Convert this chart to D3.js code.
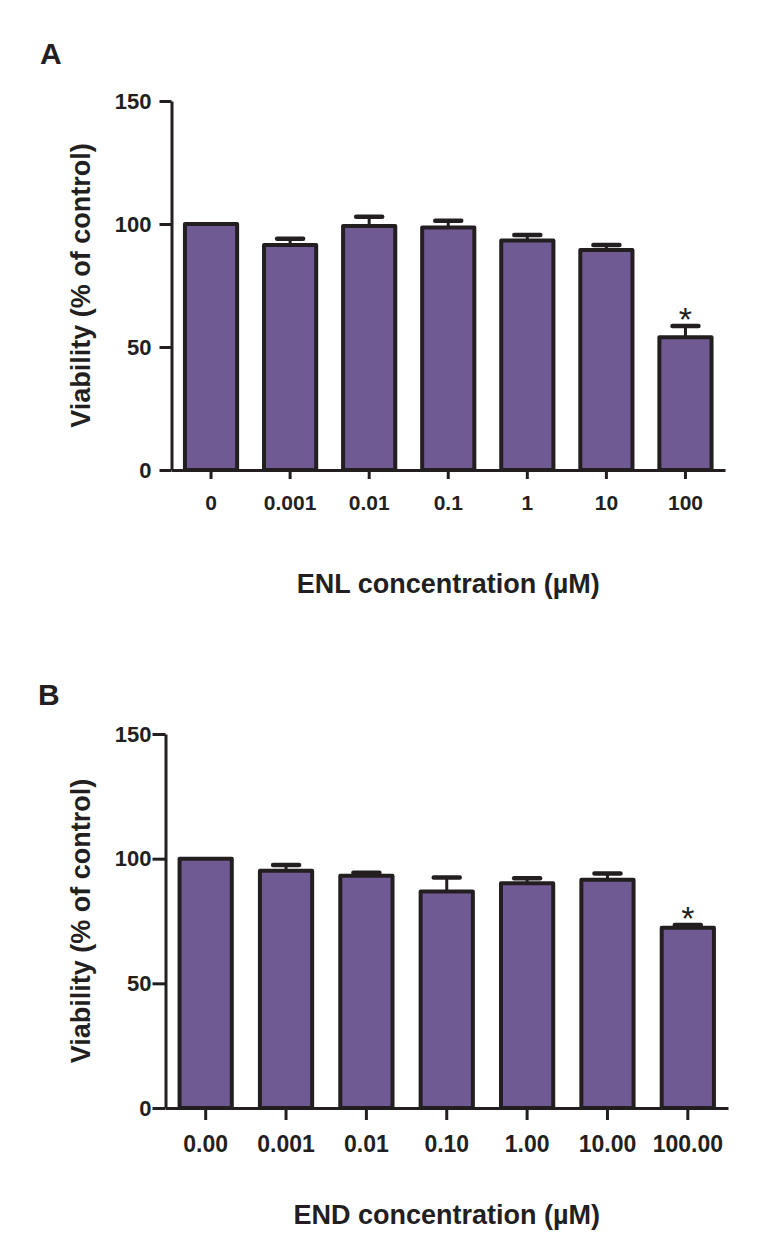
<!DOCTYPE html>
<html>
<head>
<meta charset="utf-8">
<script src="https://cdn.jsdelivr.net/npm/d3@7/dist/d3.min.js"></script>
<style>
  html, body { margin: 0; padding: 0; background: #fff; }
  svg { display: block; }
  text { font-family: "Liberation Sans", Arial, Helvetica, sans-serif; fill: #231f20; }
</style>
</head>
<body>
<svg id="chart" width="777" height="1255"></svg>
<script>
// ---- Data ----
const categoriesA = ["0", "0.001", "0.01", "0.1", "1", "10", "100"];
const viabilityA  = [100, 91.5, 99.2, 98.6, 93.3, 89.4, 54.0];
const errorA      = [0, 2.5, 3.7, 2.7, 2.2, 2.1, 4.5];
const significantA = [false, false, false, false, false, false, true];

const categoriesB = ["0.00", "0.001", "0.01", "0.10", "1.00", "10.00", "100.00"];
const viabilityB  = [100, 95.2, 93.1, 86.8, 90.1, 91.5, 72.3];
const errorB      = [0, 2.3, 1.3, 5.6, 2.0, 2.6, 1.1];
const significantB = [false, false, false, false, false, false, true];

const yTickValues = [0, 50, 100, 150];
const yDomain = [0, 150];

const panelLetters = ["A", "B"];
const yTitle = "Viability (% of control)";
const xTitles = ["ENL concentration (\u00B5M)", "END concentration (\u00B5M)"];

// ---- Style ----
const FILL = "#6f5a93";
const INK = "#231f20";

const svg = d3.select("#chart");

function drawPanel(cfg) {
  const g = svg.append("g");
  const x = d3.scaleBand()
    .domain(cfg.cats)
    .range([cfg.left, cfg.right])
    .paddingInner(cfg.padInner)
    .paddingOuter(cfg.padInner / 2);
  const y = d3.scaleLinear().domain(yDomain).range([cfg.bottom, cfg.top]);

  const data = cfg.cats.map((c, i) => ({ c, v: cfg.vals[i], e: cfg.errs[i], s: cfg.sig[i] }));

  // Bars
  g.selectAll("rect.bar").data(data).enter().append("rect")
    .attr("class", "bar")
    .attr("x", d => x(d.c))
    .attr("width", x.bandwidth())
    .attr("y", d => y(d.v))
    .attr("height", d => y(0) - y(d.v))
    .attr("fill", FILL)
    .attr("stroke", INK)
    .attr("stroke-width", 4)
    .attr("stroke-linejoin", "round");

  // Error bars
  const eb = g.selectAll("g.err").data(data.filter(d => d.e > 0)).enter().append("g").attr("class", "err");
  eb.append("line")
    .attr("x1", d => x(d.c) + x.bandwidth() / 2)
    .attr("x2", d => x(d.c) + x.bandwidth() / 2)
    .attr("y1", d => y(d.v))
    .attr("y2", d => y(d.v + d.e))
    .attr("stroke", INK).attr("stroke-width", 3);
  eb.append("line")
    .attr("x1", d => x(d.c) + x.bandwidth() / 2 - 13)
    .attr("x2", d => x(d.c) + x.bandwidth() / 2 + 13)
    .attr("y1", d => y(d.v + d.e))
    .attr("y2", d => y(d.v + d.e))
    .attr("stroke", INK).attr("stroke-width", 4.5).attr("stroke-linecap", "round");

  // Significance asterisks
  g.selectAll("text.sig").data(data.filter(d => d.s)).enter().append("text")
    .attr("class", "sig")
    .attr("x", d => x(d.c) + x.bandwidth() / 2)
    .attr("y", d => y(d.v + d.e) + 5)
    .attr("text-anchor", "middle")
    .attr("font-size", 34)
    .text("*");

  // Y axis
  const yAxis = g.append("g")
    .attr("transform", `translate(${cfg.left},0)`)
    .call(d3.axisLeft(y).tickValues(yTickValues).tickSize(cfg.yTick).tickSizeOuter(0).tickPadding(cfg.yPad));
  yAxis.select(".domain").attr("stroke", INK).attr("stroke-width", 3);
  yAxis.selectAll(".tick line").attr("stroke", INK).attr("stroke-width", 3);
  yAxis.selectAll(".tick text")
    .attr("font-size", cfg.yFont).attr("font-weight", "bold")
    .attr("font-family", '"Liberation Sans", Arial, sans-serif')
    .attr("fill", INK);

  // X axis
  const xAxis = g.append("g")
    .attr("transform", `translate(0,${cfg.bottom})`)
    .call(d3.axisBottom(x).tickSize(cfg.xTick).tickSizeOuter(0).tickPadding(cfg.xPad));
  xAxis.select(".domain").attr("stroke", INK).attr("stroke-width", 3);
  xAxis.selectAll(".tick line").attr("stroke", INK).attr("stroke-width", 3);
  xAxis.selectAll(".tick text")
    .attr("font-size", cfg.xFont).attr("font-weight", "bold")
    .attr("font-family", '"Liberation Sans", Arial, sans-serif')
    .attr("fill", INK);

  // Panel letter
  g.append("text")
    .attr("x", cfg.letterX).attr("y", cfg.letterY)
    .attr("font-size", 30).attr("font-weight", "bold")
    .text(cfg.letter);

  // Y title
  const yMid = (cfg.top + cfg.bottom) / 2;
  g.append("text")
    .attr("transform", `translate(${cfg.yTitleX},${yMid}) rotate(-90)`)
    .attr("text-anchor", "middle")
    .attr("font-size", 27).attr("font-weight", "bold")
    .text(yTitle);

  // X title
  g.append("text")
    .attr("x", (cfg.left + cfg.right) / 2)
    .attr("y", cfg.xTitleY)
    .attr("text-anchor", "middle")
    .attr("font-size", 27).attr("font-weight", "bold")
    .text(cfg.xTitle);
}

drawPanel({
  cats: categoriesA, vals: viabilityA, errs: errorA, sig: significantA,
  left: 171.5, right: 725, top: 101, bottom: 470, padInner: 0.34,
  yTick: 12, yPad: 8, yFont: 22, xTick: 9, xPad: 16, xFont: 21,
  letter: panelLetters[0], letterX: 40, letterY: 64,
  yTitleX: 90, xTitle: xTitles[0], xTitleY: 593
});

drawPanel({
  cats: categoriesB, vals: viabilityB, errs: errorB, sig: significantB,
  left: 165.5, right: 728, top: 734, bottom: 1108, padInner: 0.35,
  yTick: 13, yPad: 1, yFont: 22, xTick: 12, xPad: 16, xFont: 23,
  letter: panelLetters[1], letterX: 38, letterY: 705,
  yTitleX: 90, xTitle: xTitles[1], xTitleY: 1224
});
</script>
</body>
</html>
